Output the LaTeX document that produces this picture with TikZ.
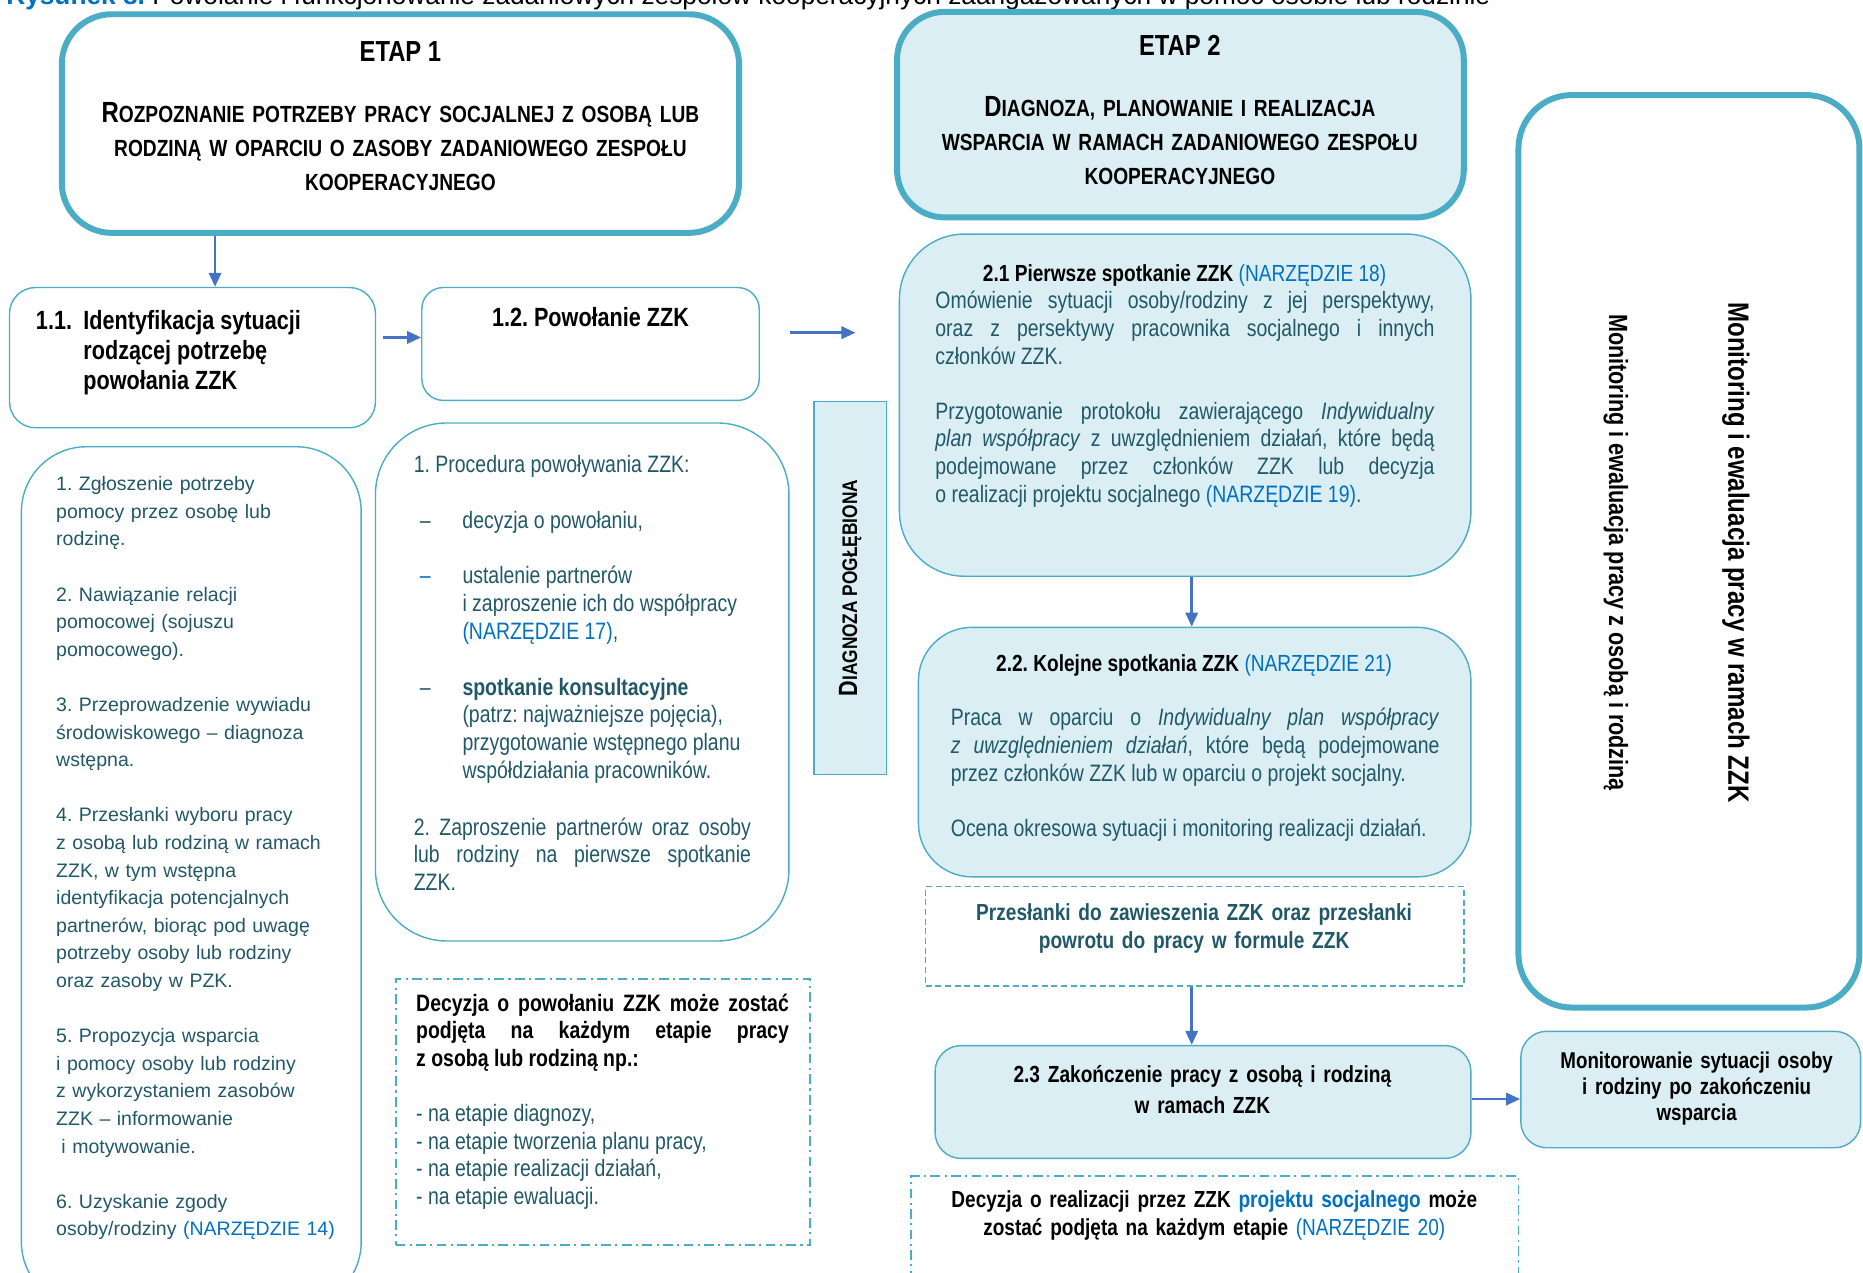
\documentclass[tikz,border=0pt]{standalone}
\usepackage{fontspec}
\setmainfont{Liberation Sans}[FakeStretch=0.82]
\newfontfamily\widefont{Liberation Sans}
\usepackage{tikz}
\usepackage{xcolor}
\usetikzlibrary{positioning,arrows.meta,fit}
\frenchspacing

\definecolor{tealline}{RGB}{75,172,198}
\definecolor{paleblue}{RGB}{218,238,243}
\definecolor{tealtext}{RGB}{33,88,104}
\definecolor{linkblue}{RGB}{0,112,192}
\definecolor{arrowblue}{RGB}{68,114,196}

\newcommand{\narz}[1]{\textcolor{linkblue}{#1}}
\newcommand{\bodysize}{\fontsize{13.5}{15.7}\selectfont}
\newcommand{\boldsize}{\fontsize{13.25}{15.7}\selectfont\bfseries}
\newcommand{\titlesize}{\fontsize{13.3}{19.3}\selectfont\bfseries}
\newcommand{\bigletter}[1]{{\fontsize{16.6}{19.3}\selectfont #1}}

\tikzset{
  etapbox/.style={draw=tealline, line width=3.4pt, inner sep=0pt},
  thinbox/.style={draw=tealline, line width=0.8pt, inner sep=0pt},
  dashdotbox/.style={draw=tealline, line width=1pt, dash pattern=on 5.5pt off 2.5pt on 1.2pt off 2.5pt, inner sep=0pt},
  dashedbox/.style={draw=tealline, line width=0.8pt, dash pattern=on 3.5pt off 2pt, inner sep=0pt},
  para/.style={inner sep=0pt, text=tealtext, font=\bodysize, align=justify, anchor=base west},
  heading/.style={inner sep=0pt, font=\boldsize, anchor=base},
  arr/.style={draw=arrowblue, line width=1.5pt, -{Triangle[length=8pt,width=7pt]}}
}

\begin{document}
\begin{tikzpicture}[x=0.02376cm, y=-0.02376cm]
    \useasboundingbox (0,0) rectangle (1568,1071);
    \clip (0,0) rectangle (1568,1071);

    % caption, cut off at the top of the page
    \node[anchor=base west, inner sep=0pt, font=\widefont\fontsize{14.95}{16}\selectfont] (caption) at (5,4)
        {\narz{\bfseries Rysunek 8.} Powołanie i funkcjonowanie zadaniowych zespołów kooperacyjnych zaangażowanych w pomoc osobie lub rodzinie};

    % Etap 1
    \node[etapbox, rounded corners=1cm, fit={(52,12) (622,196)}] (etap1) {};
    \node[heading, font=\fontsize{16.5}{20}\selectfont\bfseries] (etap1head) at (337,52) {ETAP 1};
    \node[heading, font=\titlesize, text width=360pt, align=center] (etap1title) at (337,103)
        {\bigletter{R}OZPOZNANIE POTRZEBY PRACY SOCJALNEJ Z OSOBĄ LUB\\
         RODZINĄ W OPARCIU O ZASOBY ZADANIOWEGO ZESPOŁU\\
         KOOPERACYJNEGO};

    % 1.1 and 1.2
    \node[thinbox, rounded corners=0.52cm, fit={(8,242) (316,360)}] (b11) {};
    \node[anchor=base west, inner sep=0pt, font=\fontsize{15}{17.2}\selectfont\bfseries] (b11text) at (30,277)
        {\begin{tabular}[t]{@{}p{27pt}@{}l@{}}
         1.1. & Identyfikacja sytuacji\\
              & rodzącej potrzebę\\
              & powołania ZZK
         \end{tabular}};
    \node[thinbox, rounded corners=0.43cm, fit={(355,242) (639,337)}] (b12) {};
    \node[heading, font=\fontsize{15}{17.2}\selectfont\bfseries] (b12text) at (497,275) {1.2. Powołanie ZZK};

    % list under 1.1
    \node[thinbox, rounded corners=1.3cm, fit={(18,376) (304,1100)}] (list1) {};
    \node[anchor=base west, inner sep=0pt, text=tealtext, font=\widefont\fontsize{11.1}{15.7}\selectfont,
          text width=180pt, align=left] (list1text) at (47,413)
        {1. Zgłoszenie potrzeby\\
         pomocy przez osobę lub\\
         rodzinę.\\[15.7pt]
         2. Nawiązanie relacji\\
         pomocowej (sojuszu\\
         pomocowego).\\[15.7pt]
         3. Przeprowadzenie wywiadu\\
         środowiskowego – diagnoza\\
         wstępna.\\[15.7pt]
         4. Przesłanki wyboru pracy\\
         z osobą lub rodziną w ramach\\
         ZZK, w tym wstępna\\
         identyfikacja potencjalnych\\
         partnerów, biorąc pod uwagę\\
         potrzeby osoby lub rodziny\\
         oraz zasoby w PZK.\\[15.7pt]
         5. Propozycja wsparcia\\
         i pomocy osoby lub rodziny\\
         z wykorzystaniem zasobów\\
         ZZK – informowanie\\
         \hspace*{3pt}i motywowanie.\\[15.7pt]
         6. Uzyskanie zgody\\
         osoby/rodziny \narz{(NARZĘDZIE 14)}};

    % list under 1.2
    \node[thinbox, rounded corners=1.43cm, fit={(316,356) (664,792)}] (list2) {};
    \node[anchor=base west, inner sep=0pt, text=tealtext, font=\fontsize{13.5}{15.8}\selectfont] (list2text) at (348,398)
        {\begin{tabular}[t]{@{}p{27.7pt}@{}l@{}}
         \multicolumn{2}{@{}l@{}}{1. Procedura powoływania ZZK:}\\[15.8pt]
         \hspace{3.4pt}– & decyzja o powołaniu,\\[15.8pt]
         \hspace{3.4pt}\narz{–} & ustalenie partnerów\\
            & i zaproszenie ich do współpracy\\
            & \narz{(NARZĘDZIE 17)},\\[15.8pt]
         \hspace{3.4pt}– & \textbf{spotkanie konsultacyjne}\\
            & (patrz: najważniejsze pojęcia),\\
            & przygotowanie wstępnego planu\\
            & współdziałania pracowników.
         \end{tabular}};
    \node[para, text width=191.8pt] (list2end) at (348,703)
        {2. Zaproszenie partnerów oraz osoby\linebreak
         lub rodziny na pierwsze spotkanie\linebreak ZZK.};

    % decision box, stage 1
    \node[dashdotbox, fit={(333,824) (682,1048)}] (decyzja1) {};
    \node[para, text width=212pt] (decyzja1text) at (350,851)
        {{\color{black}\bfseries Decyzja o powołaniu ZZK może zostać\linebreak
          podjęta na każdym etapie pracy\linebreak z osobą lub rodziną np.:}\\[15.7pt]
         - na etapie diagnozy,\\
         - na etapie tworzenia planu pracy,\\
         - na etapie realizacji działań,\\
         - na etapie ewaluacji.};

    % Diagnoza pogłębiona
    \node[thinbox, fill=paleblue, fit={(685,338) (746,652)}] (diag) {};
    \node[rotate=90, inner sep=0pt, font=\fontsize{12}{14}\selectfont\bfseries] (diagtext) at (diag.center)
        {{\fontsize{15}{14}\selectfont D}IAGNOZA POGŁĘBIONA};

    % Etap 2
    \node[etapbox, fill=paleblue, rounded corners=0.95cm, fit={(755,10) (1232,183)}] (etap2) {};
    \node[heading, font=\fontsize{16.5}{20}\selectfont\bfseries] (etap2head) at (993,47) {ETAP 2};
    \node[heading, font=\titlesize, text width=360pt, align=center] (etap2title) at (993,98)
        {\bigletter{D}IAGNOZA, PLANOWANIE I REALIZACJA\\
         WSPARCIA W RAMACH ZADANIOWEGO ZESPOŁU\\
         KOOPERACYJNEGO};

    % 2.1
    \node[thinbox, fill=paleblue, rounded corners=1.3cm, fit={(757,197) (1238,485)}] (s21) {};
    \node[heading] (s21head) at (997,237) {2.1 Pierwsze spotkanie ZZK \narz{\mdseries (NARZĘDZIE 18)}};
    \node[para, text width=284pt] (s21text) at (787,260)
        {Omówienie sytuacji osoby/rodziny z jej perspektywy,\linebreak
         oraz z persektywy pracownika socjalnego i innych\linebreak
         członków ZZK.\\[15.7pt]
         Przygotowanie protokołu zawierającego \textit{Indywidualny}\linebreak
         \textit{plan współpracy} z uwzględnieniem działań, które będą\linebreak
         podejmowane przez członków ZZK lub decyzja\linebreak
         o realizacji projektu socjalnego \narz{(NARZĘDZIE 19)}.};

    % 2.2
    \node[thinbox, fill=paleblue, rounded corners=1.07cm, fit={(773,528) (1238,738)}] (s22) {};
    \node[heading] (s22head) at (1005,565) {2.2. Kolejne spotkania ZZK \narz{\mdseries (NARZĘDZIE 21)}};
    \node[para, text width=278pt] (s22text) at (800,611)
        {Praca w oparciu o \textit{Indywidualny plan współpracy}\linebreak
         \textit{z uwzględnieniem działań}, które będą podejmowane\linebreak
         przez członków ZZK lub w oparciu o projekt socjalny.\\[15.7pt]
         Ocena okresowa sytuacji i monitoring realizacji działań.};

    % suspension box
    \node[dashedbox, fit={(779,746) (1232,830)}] (prem) {};
    \node[heading, text=tealtext, text width=330pt, align=center, font=\fontsize{13.25}{15.5}\selectfont\bfseries] (premtext) at (1005,775)
        {Przesłanki do zawieszenia ZZK oraz przesłanki\\ powrotu do pracy w formule ZZK};

    % 2.3
    \node[thinbox, fill=paleblue, rounded corners=0.52cm, fit={(787,880) (1238,975)}] (s23) {};
    \node[heading, text width=330pt, align=center, font=\fontsize{13.25}{17.6}\selectfont\bfseries] (s23text) at (1012,911)
        {2.3 Zakończenie pracy z osobą i rodziną\\ w ramach ZZK};

    % monitoring after support
    \node[thinbox, fill=paleblue, rounded corners=0.52cm, fit={(1280,868) (1566,966)}] (monit) {};
    \node[heading, text width=185pt, align=center, font=\fontsize{13}{14.9}\selectfont\bfseries] (monittext) at (1428,899)
        {Monitorowanie sytuacji osoby\\ i rodziny po zakończeniu\\ wsparcia};

    % monitoring frame
    \node[etapbox, rounded corners=1.07cm, fit={(1278,80) (1565,848)}] (monframe) {};
    \node[rotate=-90, inner sep=0pt, font=\fontsize{16.7}{18}\selectfont\bfseries] (monzzk) at (1461,465)
        {Monitoring i ewaluacja pracy w ramach ZZK};
    \node[rotate=-90, inner sep=0pt, font=\fontsize{15}{18}\selectfont\bfseries] (monosoba) at (1360,465)
        {Monitoring i ewaluacja pracy z osobą i rodziną};

    % decision box, stage 2
    \node[dashdotbox, fit={(767,990) (1278,1100)}] (decyzja2) {};
    \node[heading, text width=345pt, align=center, font=\fontsize{13.2}{16.2}\selectfont\bfseries] (decyzja2text) at (1022,1016)
        {Decyzja o realizacji przez ZZK \narz{projektu socjalnego} może\\
         zostać podjęta na każdym etapie \narz{\mdseries (NARZĘDZIE 20)}};

    % arrows
    \coordinate (x1) at (181,0);
    \draw[arr] (etap1.south -| x1) -- (b11.north -| x1);
    \coordinate (y2) at (0,284);
    \draw[arr, shorten <=4pt] (b11.east |- y2) -- (b12.west |- y2);
    \coordinate (g2) at (720,280);
    \draw[arr, shorten <=17pt] (b12.east |- g2) -- (g2);
    \coordinate (x4) at (1003,0);
    \draw[arr] (s21.south -| x4) -- (s22.north -| x4);
    \draw[arr] (prem.south -| x4) -- (s23.north -| x4);
    \coordinate (y6) at (0,925);
    \draw[arr] (s23.east |- y6) -- (monit.west |- y6);
\end{tikzpicture}
\end{document}
